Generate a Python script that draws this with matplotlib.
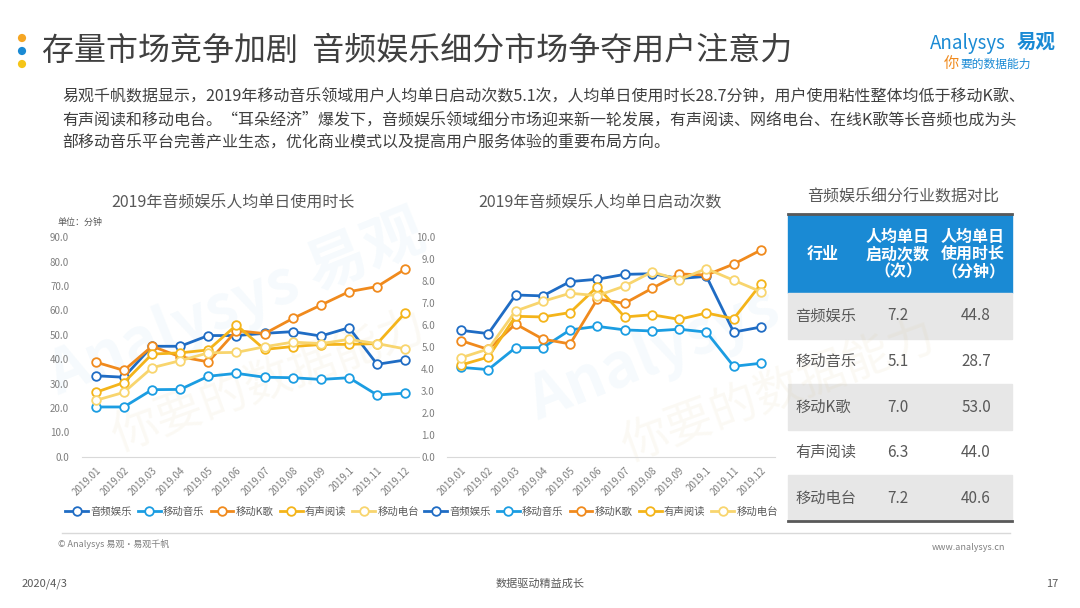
import matplotlib
matplotlib.use('Agg')
import matplotlib.pyplot as plt
from matplotlib.patches import Rectangle, Circle

plt.rcParams['font.family'] = ['Noto Sans CJK SC', 'DejaVu Sans']

# ---- data ----
months = ['2019.01', '2019.02', '2019.03', '2019.04', '2019.05', '2019.06',
          '2019.07', '2019.08', '2019.09', '2019.1', '2019.11', '2019.12']
series_names = ['音频娱乐', '移动音乐', '移动K歌', '有声阅读', '移动电台']
series_colors = ['#1f6cc4', '#1b9de2', '#f08a1d', '#f4b41a', '#f8d56e']

# 人均单日使用时长 (分钟)
dur_audio = [33.2, 32.6, 45.3, 45.3, 49.7, 49.7, 50.6, 51.3, 49.5, 52.9, 37.9, 39.7]
dur_music = [20.4, 20.4, 27.5, 27.6, 33.0, 34.2, 32.6, 32.4, 31.7, 32.4, 25.3, 26.1]
dur_ktv = [38.8, 35.4, 45.3, 41.0, 38.9, 51.7, 50.5, 56.7, 62.2, 67.7, 69.8, 77.0]
dur_reading = [26.4, 30.4, 42.1, 42.6, 43.8, 54.0, 44.0, 45.2, 46.0, 46.1, 46.4, 59.1]
dur_radio = [23.1, 26.4, 36.5, 39.4, 42.6, 42.8, 45.1, 47.0, 46.4, 48.1, 46.4, 44.2]

# 人均单日启动次数 (次)
launch_audio = [5.76, 5.61, 7.37, 7.33, 7.98, 8.09, 8.31, 8.34, 8.12, 8.22, 5.68, 5.91]
launch_music = [4.07, 3.97, 4.97, 4.97, 5.78, 5.94, 5.78, 5.73, 5.81, 5.68, 4.12, 4.26]
launch_ktv = [5.29, 4.89, 6.05, 5.36, 5.14, 7.19, 6.99, 7.67, 8.33, 8.28, 8.78, 9.42]
launch_reading = [4.18, 4.54, 6.40, 6.37, 6.57, 7.75, 6.37, 6.47, 6.26, 6.55, 6.29, 7.87]
launch_radio = [4.51, 4.91, 6.64, 7.08, 7.45, 7.34, 7.78, 8.42, 8.07, 8.57, 8.04, 7.52]

# table
table_industry = ['音频娱乐', '移动音乐', '移动K歌', '有声阅读', '移动电台']
table_launch = [7.2, 5.1, 7.0, 6.3, 7.2]
table_duration = [44.8, 28.7, 53.0, 44.0, 40.6]

W, H = 1080, 608
fig = plt.figure(figsize=(W / 100, H / 100), dpi=100)
fig.patch.set_facecolor('white')

# overlay axes in pixel coordinates for slide decoration
bg = fig.add_axes([0, 0, 1, 1])
bg.set_xlim(0, W)
bg.set_ylim(H, 0)
bg.axis('off')

# watermarks
bg.text(40, 395, 'Analysys 易观', fontsize=44, color='#1a8ad4', alpha=0.04,
        rotation=22, fontweight='bold', ha='left', va='baseline')
bg.text(105, 450, '你要的数据能力', fontsize=34, color='#d9c48a', alpha=0.09,
        rotation=20, ha='left', va='baseline')
bg.text(520, 420, 'Analysys', fontsize=44, color='#1a8ad4', alpha=0.04,
        rotation=22, fontweight='bold', ha='left', va='baseline')
bg.text(615, 460, '你要的数据能力', fontsize=34, color='#d9c48a', alpha=0.09,
        rotation=20, ha='left', va='baseline')

# title
for yy, c in zip([38, 51, 64], ['#f5a623', '#1a8ad4', '#f5c518']):
    bg.add_patch(Circle((22, yy), 3.4, color=c))
bg.text(42, 51, '存量市场竞争加剧  音频娱乐细分市场争夺用户注意力', fontsize=23,
        color='#404040', va='center', ha='left')

# logo
bg.text(930, 43, 'Analysys', fontsize=13.5, color='#1a8ad4', style='italic',
        va='center', ha='left')
bg.text(1017, 42, '易观', fontsize=14, color='#1a8ad4', fontweight='bold',
        va='center', ha='left')
bg.text(944, 63, '你', fontsize=11, color='#f08a1d', va='center', ha='left',
        style='italic')
bg.text(960, 64, '要的数据能力', fontsize=8.5, color='#1a8ad4', va='center',
        ha='left', style='italic')

# paragraph
para = ['易观千帆数据显示，2019年移动音乐领域用户人均单日启动次数5.1次，人均单日使用时长28.7分钟，用户使用粘性整体均低于移动K歌、',
        '有声阅读和移动电台。“耳朵经济”爆发下，音频娱乐领域细分市场迎来新一轮发展，有声阅读、网络电台、在线K歌等长音频也成为头',
        '部移动音乐平台完善产业生态，优化商业模式以及提高用户服务体验的重要布局方向。']
for i, line in enumerate(para):
    bg.text(62, 97 + i * 23, line, fontsize=11.5, color='#404040',
            va='center', ha='left')


def draw_chart(x0, x1, series, ymax, ystep, title, title_x, leg_cx):
    y_top, y_bot = 237.3, 456.7
    ax = fig.add_axes([x0 / W, 1 - y_bot / H, (x1 - x0) / W, (y_bot - y_top) / H])
    ax.patch.set_alpha(0)
    xs = range(len(months))
    for vals, name, color in zip(series, series_names, series_colors):
        ax.plot(xs, vals, color=color, lw=2.0, marker='o', ms=6.2,
                mfc='white', mec=color, mew=1.3, label=name)
    ax.set_xlim(-0.5, len(months) - 0.5)
    ax.set_ylim(0, ymax)
    ticks = [i * ystep for i in range(int(round(ymax / ystep)) + 1)]
    ax.set_yticks(ticks)
    ax.set_yticklabels(['%.1f' % t for t in ticks])
    ax.set_xticks(list(xs))
    ax.set_xticklabels(months, rotation=45, ha='right', rotation_mode='anchor')
    for s in ['top', 'right', 'left']:
        ax.spines[s].set_visible(False)
    ax.spines['bottom'].set_color('#d9d9d9')
    ax.tick_params(axis='both', length=0, labelsize=7, colors='#7f7f7f')
    ax.tick_params(axis='y', pad=9)
    ax.tick_params(axis='x', pad=6)
    bx = (leg_cx - x0) / (x1 - x0)
    by = (y_bot - 512) / (y_bot - y_top)
    ax.legend(loc='center', bbox_to_anchor=(bx, by), ncol=5, frameon=False,
              fontsize=7.5, handlelength=2.2, columnspacing=0.6,
              handletextpad=0.2, labelcolor='#595959', borderaxespad=0)
    bg.text(title_x, 203, title, fontsize=11.5, color='#595959',
            ha='center', va='center')
    return ax


draw_chart(81.7, 419.4, [dur_audio, dur_music, dur_ktv, dur_reading, dur_radio],
           90, 10, '2019年音频娱乐人均单日使用时长', 233, 242)
bg.text(58, 222, '单位：分钟', fontsize=6.5, color='#595959', ha='left', va='center')
draw_chart(447.4, 774.6, [launch_audio, launch_music, launch_ktv, launch_reading, launch_radio],
           10, 1, '2019年音频娱乐人均单日启动次数', 600, 601)

# table
tx0, tx1 = 788, 1012
bg.text(903, 197, '音频娱乐细分行业数据对比', fontsize=11.5, color='#595959',
        ha='center', va='center')
bg.add_patch(Rectangle((tx0, 214), tx1 - tx0, 79, color='#1a8ad4', zorder=2))
row_h = (521 - 293) / len(table_industry)
for i in range(len(table_industry)):
    ry = 293 + i * row_h
    if i % 2 == 0:
        bg.add_patch(Rectangle((tx0, ry), tx1 - tx0, row_h, color='#e7e7e7', zorder=2))
    cy = ry + row_h / 2
    bg.text(795, cy, table_industry[i], fontsize=11, color='#595959',
            ha='left', va='center', zorder=3)
    bg.text(898, cy, '%.1f' % table_launch[i], fontsize=11, color='#595959',
            ha='center', va='center', zorder=3)
    bg.text(976, cy, '%.1f' % table_duration[i], fontsize=11, color='#595959',
            ha='center', va='center', zorder=3)
bg.plot([tx0, tx1], [214, 214], color='#595959', lw=2, zorder=4)
bg.plot([tx0, tx1], [521, 521], color='#595959', lw=2, zorder=4)
bg.text(823, 254, '行业', fontsize=11.5, color='white', fontweight='bold',
        ha='center', va='center', zorder=3)
bg.text(898, 254, '人均单日\n启动次数\n（次）', fontsize=11.5, color='white',
        fontweight='bold', ha='center', va='center', linespacing=1.1, zorder=3)
bg.text(973, 254, '人均单日\n使用时长\n（分钟）', fontsize=11.5, color='white',
        fontweight='bold', ha='center', va='center', linespacing=1.1, zorder=3)

# footer
bg.plot([62, 1010], [533, 533], color='#d9d9d9', lw=1)
bg.text(58, 544, '© Analysys 易观·易观千帆', fontsize=6.5, color='#808080',
        ha='left', va='center')
bg.text(1005, 547, 'www.analysys.cn', fontsize=6.5, color='#808080',
        ha='right', va='center')
bg.text(22, 584, '2020/4/3', fontsize=8, color='#595959', ha='left', va='center')
bg.text(540, 584, '数据驱动精益成长', fontsize=8, color='#595959', ha='center', va='center')
bg.text(1058, 584, '17', fontsize=8, color='#595959', ha='right', va='center')

fig.savefig('out.png', dpi=100, facecolor='white')
